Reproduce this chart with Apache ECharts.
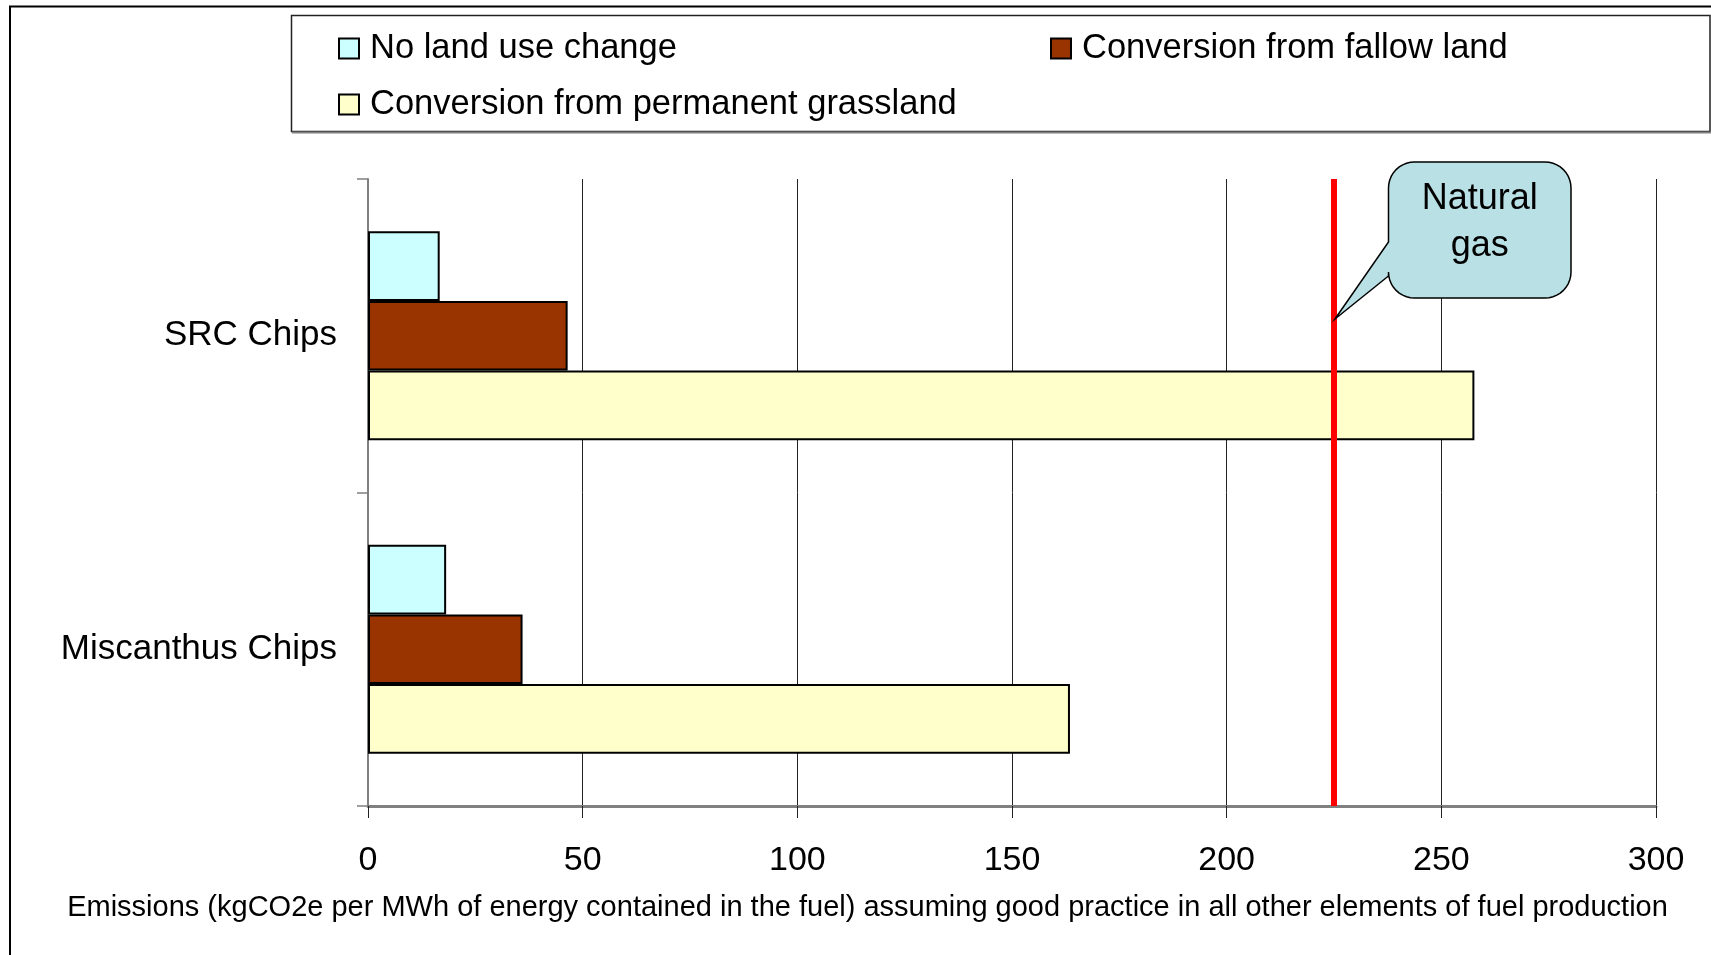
<!DOCTYPE html>
<html>
<head>
<meta charset="utf-8">
<script src="https://cdn.jsdelivr.net/npm/echarts@6/dist/echarts.min.js"></script>
<style>
html,body{margin:0;padding:0;background:#fff;}
#main{width:1711px;height:955px;}
</style>
</head>
<body>
<div id="main"></div>
<script>
const categories = ['SRC Chips', 'Miscanthus Chips'];
const seriesNames = ['No land use change', 'Conversion from fallow land', 'Conversion from permanent grassland'];
const noLandUseChange = [16.7, 18.2];
const fallowLand = [46.5, 36.0];
const permanentGrassland = [257.7, 163.5];
const naturalGas = 225;
const calloutText = 'Natural\ngas';
const axisTitle = 'Emissions (kgCO2e per MWh of energy contained in the fuel) assuming good practice in all other elements of fuel production';
const xMin = 0, xMax = 300, xInterval = 50;

const FONT = "'Liberation Sans', Arial, sans-serif";
const colors = ['#CCFFFF', '#993300', '#FFFFCC'];
const valueLists = [noLandUseChange, fallowLand, permanentGrassland];

const chart = echarts.init(document.getElementById('main'), null, {renderer: 'canvas'});

function legendItem(name, left, top) {
  return {
    data: [name], left: left, top: top, padding: 0, orient: 'horizontal',
    icon: 'rect', itemWidth: 20, itemHeight: 20, selectedMode: false,
    itemStyle: {borderColor: '#000', borderWidth: 2},
    textStyle: {fontFamily: FONT, fontSize: 34.5, color: '#000', padding: [0, 0, 0, 6]}
  };
}

const series = seriesNames.map((n, i) => ({
  name: n, type: 'bar', data: valueLists[i],
  barGap: '0%', barCategoryGap: '33.3%',
  itemStyle: {color: colors[i], borderColor: '#000', borderWidth: 2},
  z: 3
}));
series[0].markLine = {
  silent: true, symbol: ['none', 'none'], animation: false,
  label: {show: false},
  lineStyle: {color: '#FF0000', width: 6, type: 'solid'},
  data: [{xAxis: naturalGas}],
  z: 5
};

const option = {
  animation: false,
  backgroundColor: '#fff',
  legend: [
    legendItem(seriesNames[0], 338, 31),
    legendItem(seriesNames[1], 1050, 31),
    legendItem(seriesNames[2], 338, 87)
  ],
  grid: {left: 368, right: 55, top: 179, bottom: 149, containLabel: false},
  xAxis: {
    type: 'value', min: xMin, max: xMax, interval: xInterval,
    axisLine: {show: true, lineStyle: {color: '#808080', width: 3}},
    axisTick: {show: true, length: 12, lineStyle: {color: '#222', width: 1}},
    splitLine: {show: true, lineStyle: {color: '#222', width: 1}},
    axisLabel: {fontFamily: FONT, fontSize: 34, color: '#000', margin: 38}
  },
  yAxis: {
    type: 'category', inverse: true, data: categories,
    axisLine: {show: true, lineStyle: {color: '#808080', width: 2}},
    axisTick: {show: true, length: 11, lineStyle: {color: '#808080', width: 1.5}},
    axisLabel: {fontFamily: FONT, fontSize: 35, color: '#000', margin: 31, padding: [4, 0, 0, 0]},
    splitLine: {show: false}
  },
  series: series
};
chart.setOption(option);

const tipX = chart.convertToPixel({xAxisIndex: 0}, naturalGas);
const x0 = tipX + 54.5, x1 = tipX + 237, y0 = 162, y1 = 298, r = 26;
const pa = 242, pb = 276, tipY = 319;
function arc(cx, cy, a0, a1) {
  const pts = [];
  for (let k = 0; k <= 10; k++) {
    const a = a0 + (a1 - a0) * k / 10;
    pts.push([cx + r * Math.cos(a), cy + r * Math.sin(a)]);
  }
  return pts;
}
const PI = Math.PI;
let pts = [];
pts = pts.concat(arc(x0 + r, y0 + r, PI, 1.5 * PI));
pts = pts.concat(arc(x1 - r, y0 + r, 1.5 * PI, 2 * PI));
pts = pts.concat(arc(x1 - r, y1 - r, 0, 0.5 * PI));
pts = pts.concat(arc(x0 + r, y1 - r, 0.5 * PI, PI));
pts.push([x0, pb]);
pts.push([tipX + 1, tipY]);
pts.push([x0, pa]);

chart.setOption({
  graphic: [
    {type: 'polyline', shape: {points: [[10, 955], [10, 6.5], [1711, 6.5]]}, style: {stroke: '#000', lineWidth: 2, fill: null}, z: 1},
    {type: 'rect', shape: {x: 291.5, y: 15.5, width: 1418.5, height: 116}, style: {stroke: '#222', lineWidth: 1.5, fill: null}, z: 0},
    {type: 'line', shape: {x1: 292, y1: 132.5, x2: 1711, y2: 132.5}, style: {stroke: '#808080', lineWidth: 2}, z: 1},
    {type: 'polygon', shape: {points: pts}, style: {fill: '#B9E0E4', stroke: '#000', lineWidth: 1.5}, z: 10},
    {type: 'text', x: (x0 + x1) / 2, y: 176, z: 11,
     style: {text: calloutText, fontFamily: FONT, fontSize: 36, fill: '#000', align: 'center', verticalAlign: 'top', lineHeight: 47}},
    {type: 'text', x: 867.5, y: 908, z: 11,
     style: {text: axisTitle, fontFamily: FONT, fontSize: 29, fill: '#000', align: 'center', verticalAlign: 'middle'}}
  ]
});
</script>
</body>
</html>
